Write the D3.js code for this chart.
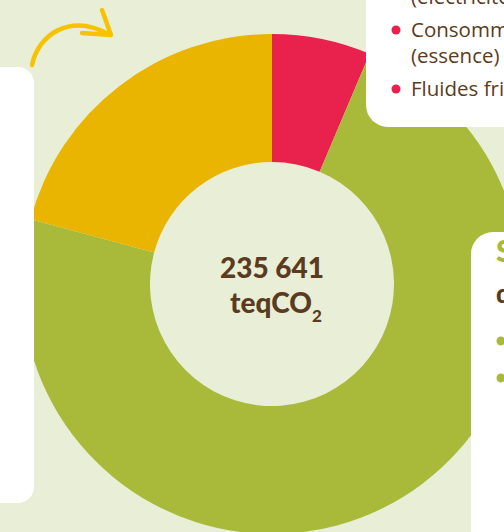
<!DOCTYPE html>
<html>
<head>
<meta charset="utf-8">
<script src="https://cdn.jsdelivr.net/npm/d3@7"></script>
<style>
  body { margin: 0; background: #e9eed6; }
  svg { display: block; }
</style>
</head>
<body>
<svg id="chart"></svg>
<script>
const width = 504;
const height = 532;

// Data
const categories = ["Fluides et énergie", "Autres postes", "Déplacements"];
const values = [15055, 171494, 49092];
const colors = ["#e8224c", "#a9ba3b", "#e9b500"];
const totalLabel = "235 641";
const legendLines = ["(électricité)", "Consommations", "(essence)", "Fluides frigorigènes"];

const bg = "#e9eed6";
const brown = "#5b3b20";

const svg = d3.select("#chart")
    .attr("width", width)
    .attr("height", height);

svg.append("rect")
    .attr("width", width)
    .attr("height", height)
    .attr("fill", bg);

// Donut
const cx = 272, cy = 284;
const outerR = 250, innerR = 122;

const pie = d3.pie().sort(null).value(d => d);
const arc = d3.arc().innerRadius(innerR).outerRadius(outerR);

const donut = svg.append("g")
    .attr("transform", `translate(${cx},${cy})`);

donut.selectAll("path")
    .data(pie(values))
    .join("path")
    .attr("d", arc)
    .attr("fill", (d, i) => colors[i]);

// Centre label
const centre = donut.append("text")
    .attr("text-anchor", "middle")
    .attr("font-family", "Lato, sans-serif")
    .attr("font-weight", 900)
    .attr("font-size", 28)
    .attr("fill", brown);

centre.append("tspan")
    .attr("x", 0)
    .attr("y", -6)
    .text(totalLabel);

const line2 = centre.append("tspan")
    .attr("x", 4)
    .attr("y", 29);
line2.append("tspan").text("teqCO");
line2.append("tspan").attr("font-size", 17).attr("dy", 9).text("2");

// Arrow
const arrow = svg.append("g")
    .attr("fill", "none")
    .attr("stroke", "#f7c300")
    .attr("stroke-width", 4.5)
    .attr("stroke-linecap", "round")
    .attr("stroke-linejoin", "round");
arrow.append("path").attr("d", "M32,65 C38,35 70,12 110,35");
arrow.append("path").attr("d", "M102,10 L111,35 L82,33");

// White boxes
const boxes = svg.append("g").attr("fill", "#ffffff");
boxes.append("rect").attr("x", -30).attr("y", 67).attr("width", 64).attr("height", 436).attr("rx", 16);
boxes.append("rect").attr("x", 366).attr("y", -40).attr("width", 200).attr("height", 167).attr("rx", 22);
boxes.append("rect").attr("x", 471).attr("y", 232).attr("width", 100).attr("height", 360).attr("rx", 22);

// Legend text in top-right box
const legendY = [4, 37, 63, 96];
const legend = svg.append("g")
    .attr("font-family", "'Open Sans', sans-serif")
    .attr("font-size", 20.5)
    .attr("fill", brown);

legend.selectAll("text")
    .data(legendLines)
    .join("text")
    .attr("x", 411)
    .attr("y", (d, i) => legendY[i])
    .text(d => d);

legend.selectAll("circle")
    .data([1, 3])
    .join("circle")
    .attr("cx", 396)
    .attr("cy", i => legendY[i] - 7)
    .attr("r", 4.5)
    .attr("fill", "#e8224c");

// Right box text
const right = svg.append("g").attr("font-family", "Lato, sans-serif").attr("font-weight", 900);
right.append("text").attr("x", 496).attr("y", 262).attr("font-size", 30).attr("fill", "#a9ba3b").text("Scope");
right.append("text").attr("x", 496).attr("y", 303).attr("font-size", 26).attr("fill", brown).text("des");
right.selectAll("circle")
    .data([341, 378])
    .join("circle")
    .attr("cx", 501)
    .attr("cy", d => d)
    .attr("r", 4.5)
    .attr("fill", "#a9ba3b");
</script>
</body>
</html>
